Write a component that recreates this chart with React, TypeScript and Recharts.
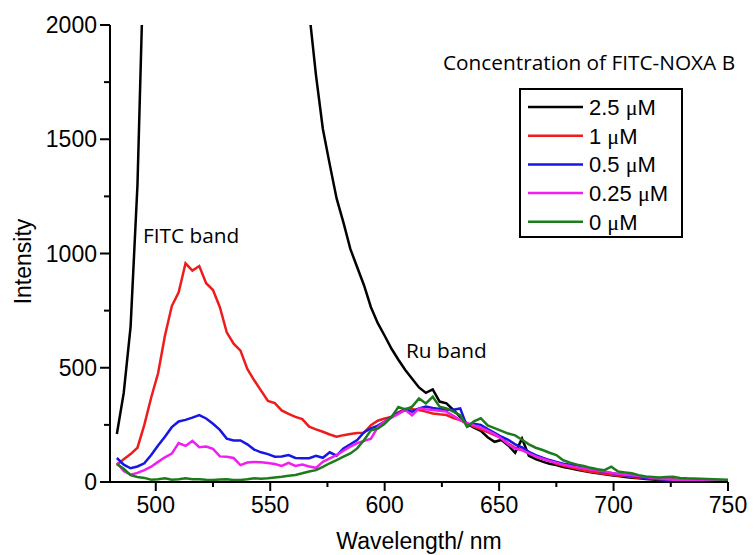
import React from 'react';
import { LineChart, Line, XAxis, YAxis, Legend, ReferenceDot } from 'recharts';

// Wavelength grid (nm)
const wavelengths = [
  483, 486, 489, 492, 495, 498, 501, 504, 507, 510,
  513, 516, 519, 522, 525, 528, 531, 534, 537, 540,
  543, 546, 549, 552, 555, 558, 561, 564, 567, 570,
  573, 576, 579, 582, 585, 588, 591, 594, 597, 600,
  603, 606, 609, 612, 615, 618, 621, 624, 627, 630,
  633, 636, 639, 642, 645, 648, 651, 654, 657, 660,
  663, 666, 669, 672, 675, 678, 681, 684, 687, 690,
  693, 696, 699, 702, 705, 708, 711, 714, 717, 720,
  723, 726, 729, 732, 735, 738, 741, 744, 747, 750,
];

const conc25 = [
  210, 390, 680, 1300, 2400, 3600, 4800, 5800, 6500, 7000,
  7200, 7300, 7200, 7000, 6700, 6300, 5900, 5500, 5100, 4700,
  4300, 4000, 3700, 3400, 3100, 2850, 2600, 2400, 2060, 1780,
  1545, 1390, 1241, 1135, 1020, 940, 860, 765, 695, 640,
  583, 535, 490, 452, 414, 390, 405, 352, 344, 315,
  285, 255, 238, 224, 196, 176, 184, 160, 128, 190,
  115, 100, 89, 80, 74, 66, 60, 54, 48, 43,
  38, 34, 30, 26, 22, 19, 16, 13, 11, 9,
  8, 7, 6, 6, 5, 5, 5, 4, 4, 4,
];

const conc1 = [
  74, 100, 122, 150, 250, 370, 476, 640, 770, 830,
  957, 925, 945, 870, 840, 765, 655, 605, 575, 495,
  445, 400, 355, 345, 313, 298, 285, 275, 242, 230,
  220, 208, 198, 205, 210, 214, 216, 249, 268, 278,
  285, 305, 320, 318, 315, 308, 300, 296, 293, 280,
  271, 255, 242, 230, 218, 205, 192, 168, 150, 140,
  128, 112, 100, 95, 80, 72, 64, 58, 50, 45,
  40, 36, 32, 28, 26, 22, 19, 16, 14, 12,
  10, 12, 8, 7, 6, 6, 5, 5, 4, 4,
];

const conc05 = [
  105, 76, 60, 68, 82, 118, 160, 198, 240, 265,
  272, 282, 293, 278, 255, 228, 190, 182, 182, 165,
  142, 130, 122, 111, 112, 118, 105, 104, 104, 115,
  106, 130, 115, 147, 165, 184, 218, 235, 247, 265,
  286, 302, 315, 308, 322, 330, 324, 320, 316, 316,
  322, 242, 255, 250, 232, 215, 198, 184, 165, 152,
  132, 118, 106, 96, 88, 80, 76, 74, 62, 56,
  50, 44, 40, 34, 30, 26, 22, 18, 15, 12,
  10, 9, 8, 8, 7, 7, 6, 6, 5, 5,
];

const conc025 = [
  85, 48, 32, 40, 52, 67, 88, 108, 124, 170,
  158, 180, 152, 155, 145, 112, 110, 105, 74, 85,
  88, 86, 83, 79, 70, 84, 70, 76, 68, 62,
  88, 103, 118, 137, 155, 170, 180, 190, 240, 265,
  282, 298, 315, 292, 322, 318, 315, 312, 308, 290,
  271, 258, 248, 238, 225, 210, 190, 165, 145, 140,
  125, 112, 102, 92, 84, 76, 70, 64, 60, 55,
  50, 46, 40, 35, 32, 30, 26, 22, 18, 15,
  12, 10, 9, 8, 7, 6, 6, 5, 5, 5,
];

const conc0 = [
  78, 58, 30, 22, 18, 10, 12, 16, 10, 12,
  16, 12, 12, 10, 9, 11, 12, 9, 9, 12,
  16, 14, 16, 20, 23, 27, 31, 38, 46, 52,
  66, 82, 96, 111, 125, 147, 184, 226, 234, 255,
  285, 328, 318, 330, 366, 344, 373, 330, 322, 308,
  292, 242, 265, 279, 248, 236, 224, 212, 204, 185,
  165, 150, 140, 128, 118, 95, 85, 76, 70, 62,
  56, 52, 67, 46, 42, 38, 30, 24, 22, 20,
  22, 23, 18, 16, 15, 14, 13, 12, 11, 10,
];

const xTicks = [500, 525, 550, 575, 600, 625, 650, 675, 700, 725, 750];
const yTicks = [0, 250, 500, 750, 1000, 1250, 1500, 1750, 2000];

const seriesNames = ['2.5 \u03bcM', '1 \u03bcM', '0.5 \u03bcM', '0.25 \u03bcM', '0 \u03bcM'];
const seriesKeys = ['c25', 'c1', 'c05', 'c025', 'c0'];
const seriesColors = ['#000000', '#ee1c1c', '#1616e6', '#f01ef0', '#1c7c1c'];

const legendTitle = 'Concentration of FITC-NOXA B';
const xTitle = 'Wavelength/ nm';
const yTitle = 'Intensity';

const rows = wavelengths.map((w, i) => ({
  w,
  c25: conc25[i],
  c1: conc1[i],
  c05: conc05[i],
  c025: conc025[i],
  c0: conc0[i],
}));

const SANS = '"Liberation Sans", Arial, Helvetica, sans-serif';
const HUM = '"Open Sans", "Noto Sans", sans-serif';

const XTick = (props: any) => {
  const { x, y, payload } = props;
  const major = payload.value % 50 === 0;
  return (
    <g>
      <line x1={x} x2={x} y1={y} y2={y + (major ? 9 : 5)} stroke="#000" strokeWidth={2} />
      {major && (
        <text x={x} y={y + 31} textAnchor="middle" fontSize={23} fontFamily={SANS} fill="#000">
          {payload.value}
        </text>
      )}
    </g>
  );
};

const YTick = (props: any) => {
  const { x, y, payload } = props;
  const major = payload.value % 500 === 0;
  return (
    <g>
      <line x1={x - (major ? 10 : 6)} x2={x} y1={y} y2={y} stroke="#000" strokeWidth={2} />
      {major && (
        <text x={x - 13} y={y + 8} textAnchor="end" fontSize={23} fontFamily={SANS} fill="#000">
          {payload.value}
        </text>
      )}
    </g>
  );
};

const YTitle = (props: any) => {
  const vb = props.viewBox || { x: 0, y: 25, width: 110, height: 457 };
  const cx = vb.x + 31;
  const cy = vb.y + vb.height / 2 + 8;
  return (
    <text
      x={cx}
      y={cy}
      transform={`rotate(-90, ${cx}, ${cy})`}
      textAnchor="middle"
      fontSize={23}
      fontFamily={SANS}
      fill="#000"
    >
      {yTitle}
    </text>
  );
};

const XTitle = (props: any) => {
  const vb = props.viewBox || { x: 110, y: 482, width: 618, height: 73 };
  return (
    <text
      x={vb.x + vb.width / 2}
      y={vb.y + 67}
      textAnchor="middle"
      fontSize={23}
      fontFamily={SANS}
      fill="#000"
    >
      {xTitle}
    </text>
  );
};

const renderLegend = () => (
  <svg width={756} height={250} style={{ display: 'block', overflow: 'visible' }}>
    <text x={443} y={70} fontSize={20.8} fontFamily={HUM} fill="#000">
      {legendTitle}
    </text>
    <rect x={520} y={89} width={162} height={148} fill="#fff" stroke="#000" strokeWidth={2} />
    {seriesNames.map((name, i) => {
      const cy = 107 + i * 28.7;
      const parts = name.split('\u03bc');
      return (
        <g key={name}>
          <line x1={528} x2={583} y1={cy} y2={cy} stroke={seriesColors[i]} strokeWidth={2.5} />
          <text x={589} y={cy + 8} fontSize={22} fontFamily={SANS} fill="#000">
            {parts[0]}
            <tspan fontFamily='"Liberation Serif", "Times New Roman", serif'>{'\u03bc'}</tspan>
            {parts[1]}
          </text>
        </g>
      );
    })}
  </svg>
);

const FitcLabel = (props: any) => (
  <text x={props.cx} y={props.cy} fontSize={20.8} fontFamily={HUM} fill="#000">
    FITC band
  </text>
);

const RuLabel = (props: any) => (
  <text x={props.cx} y={props.cy} fontSize={20.8} fontFamily={HUM} fill="#000">
    Ru band
  </text>
);

export default function App() {
  return (
    <div style={{ position: 'absolute', left: 0, top: 0, width: 756, height: 555, background: '#fff' }}>
      <LineChart
        width={756}
        height={555}
        data={rows}
        margin={{ top: 25, right: 28, bottom: 0, left: 0 }}
      >
        <XAxis
          dataKey="w"
          type="number"
          domain={[480, 750]}
          ticks={xTicks}
          interval={0}
          height={73}
          tickSize={0}
          tickMargin={0}
          tickLine={false}
          axisLine={{ stroke: '#000', strokeWidth: 2 }}
          tick={<XTick />}
          label={<XTitle />}
        />
        <YAxis
          type="number"
          domain={[0, 2000]}
          allowDataOverflow
          ticks={yTicks}
          interval={0}
          width={110}
          tickSize={0}
          tickMargin={0}
          tickLine={false}
          axisLine={{ stroke: '#000', strokeWidth: 2 }}
          tick={<YTick />}
          label={<YTitle />}
        />
        {seriesKeys.map((k, i) => (
          <Line
            key={k}
            type="linear"
            dataKey={k}
            name={seriesNames[i]}
            stroke={seriesColors[i]}
            strokeWidth={2.5}
            dot={false}
            isAnimationActive={false}
          />
        ))}
        <ReferenceDot x={494.4} y={1046} r={0} shape={<FitcLabel />} />
        <ReferenceDot x={609.3} y={543} r={0} shape={<RuLabel />} />
        <Legend
          layout="horizontal"
          verticalAlign="middle"
          align="center"
          content={renderLegend}
          wrapperStyle={{ position: 'absolute', left: 0, top: 0, width: 756, height: 250 }}
        />
      </LineChart>
    </div>
  );
}
